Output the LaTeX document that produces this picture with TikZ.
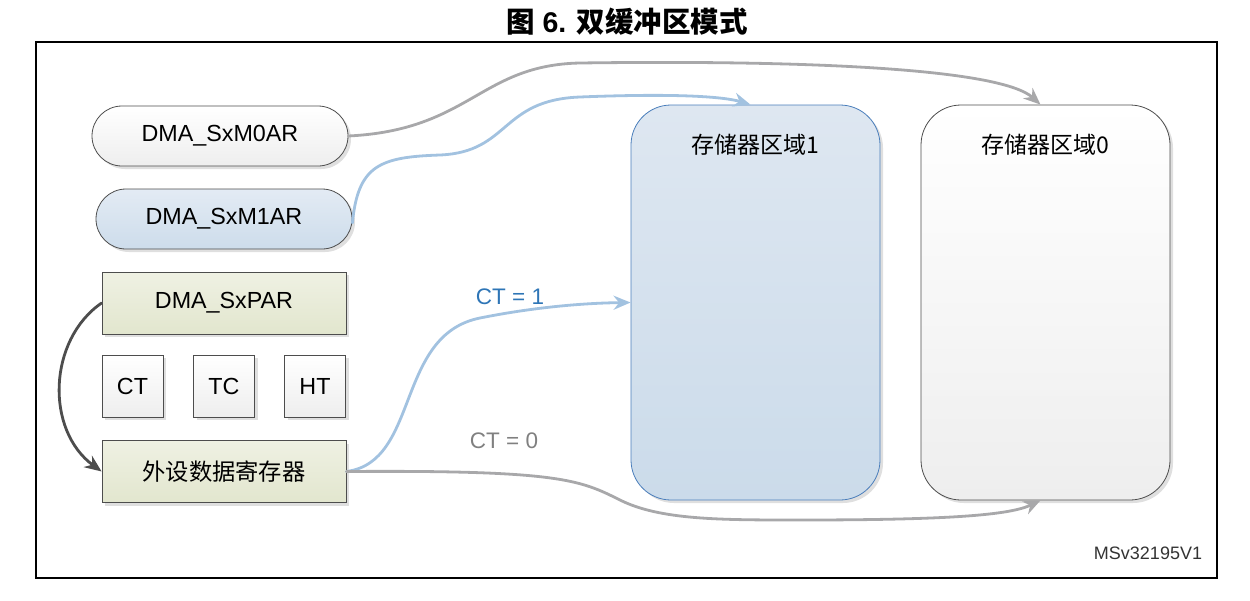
\documentclass[tikz,border=0pt]{standalone}
\usepackage{fontspec}
\setmainfont{Liberation Sans}
\newfontfamily\cjk{Noto Sans CJK SC}
\usetikzlibrary{arrows.meta,shadows}
\definecolor{arrgray}{HTML}{A8A8AA}
\definecolor{arrblue}{HTML}{A2C2E0}
\definecolor{blueborder}{HTML}{4A7EBB}
\definecolor{boxborder}{HTML}{4D4D4D}
\definecolor{ctone}{HTML}{2E75B6}
\definecolor{ctzero}{HTML}{808080}
\tikzset{
  base/.style={draw=boxborder, line width=0.8pt, inner sep=0pt,
    font=\fontsize{23.3}{28}\selectfont,
    drop shadow={shadow xshift=3pt, shadow yshift=-3pt, opacity=0.25, fill=gray}},
  pill/.style={base, rounded corners=30pt, minimum width=256pt, minimum height=60pt},
  regbox/.style={base, minimum width=244pt, minimum height=62pt,
    top color=olivetop, bottom color=olivebot},
  flagbox/.style={base, minimum width=61pt, minimum height=62pt,
    top color=white, bottom color=graybot},
  membox/.style={base, rounded corners=40pt, minimum width=249pt, minimum height=395pt},
  memlabel/.style={font=\cjk\fontsize{23}{27}\selectfont, inner sep=0pt},
  conn/.style={line width=2.8pt, line cap=round},
  tip/.style={-{Stealth[length=17pt,width=14pt]}}
}
\definecolor{olivetop}{HTML}{EFF1E3}
\definecolor{olivebot}{HTML}{E2E6CE}
\definecolor{graybot}{HTML}{EEEEEE}
\definecolor{bluetop}{HTML}{E3EBF4}
\definecolor{bluebot}{HTML}{CDDCEB}
\definecolor{memtop}{HTML}{DEE7F1}
\definecolor{membot}{HTML}{CBDBEA}
\begin{document}
\begin{tikzpicture}[x=1pt,y=-1pt]
\useasboundingbox (0,0) rectangle (1250,600);
% title
\node (title) at (627,22) {\fontsize{28.5}{32}\selectfont\bfseries{\cjk\bfseries 图} 6. {\cjk\bfseries 双缓冲区模式}};
% frame
\draw[line width=1.6pt] (36,42) rectangle (1217,578);
% left nodes
\node[pill, top color=white, bottom color=graybot] (m0) at (220,136) {DMA\_SxM0AR};
\node[pill, top color=bluetop, bottom color=bluebot] (m1) at (224,219) {DMA\_SxM1AR};
\node[regbox] (par) at (224,303) {DMA\_SxPAR};
\node[flagbox] (ct) at (132.5,386) {CT};
\node[flagbox] (tc) at (224,386) {TC};
\node[flagbox] (ht) at (315,386) {HT};
\node[regbox, font=\cjk\fontsize{23.3}{28}\selectfont] (per) at (224,471.5) {外设数据寄存器};
% memory regions
\node[membox, draw=blueborder, top color=memtop, bottom color=membot] (r1) at (755.5,302.5) {};
\node[membox, top color=white, bottom color=graybot] (r0) at (1045.5,302.5) {};
\node[memlabel] (r1t) at (755.5,145) {存储器区域1};
\node[memlabel] (r0t) at (1045.5,145) {存储器区域0};
% connectors
\coordinate (r1top) at ([xshift=-5pt]r1.north);
\coordinate (r0top) at ([xshift=-5pt]r0.north);
\coordinate (r0bot) at ([xshift=-5pt]r0.south);
\coordinate (r1left) at ([yshift=0pt]r1.west);
\coordinate (m1out) at ([yshift=-4pt]m1.east);
\draw[conn, arrgray, tip] (m0.east) .. controls (470,130) and (480,65) .. (580,63)
   .. controls (800,60) and (1000,68) .. (r0top);
\draw[conn, arrblue, tip] (m1out) .. controls (358,165) and (380,157) .. (440,155)
   .. controls (510,152) and (500,100) .. (580,97)
   .. controls (680,93) and (725,97) .. (r1top);
\draw[conn, arrblue, tip] (per.east) .. controls (420,462) and (395,335) .. (480,318)
   .. controls (540,306) and (590,303) .. (r1left);
\draw[conn, arrgray, tip] (per.east) .. controls (560,470) and (580,480) .. (620,500)
   .. controls (660,520) and (720,520) .. (800,520)
   .. controls (950,520) and (1010,515) .. (r0bot);
\draw[conn, boxborder, tip] (par.west) .. controls (48,340) and (45,430) .. (per.west);
% labels
\node[text=ctone, font=\fontsize{22.5}{27}\selectfont] (l1) at (510,297) {CT = 1};
\node[text=ctzero, font=\fontsize{22.5}{27}\selectfont] (l0) at (504,441) {CT = 0};
\node[text=black!80, font=\fontsize{18}{21}\selectfont] (ms) at (1148,553) {MSv32195V1};
\end{tikzpicture}
\end{document}
